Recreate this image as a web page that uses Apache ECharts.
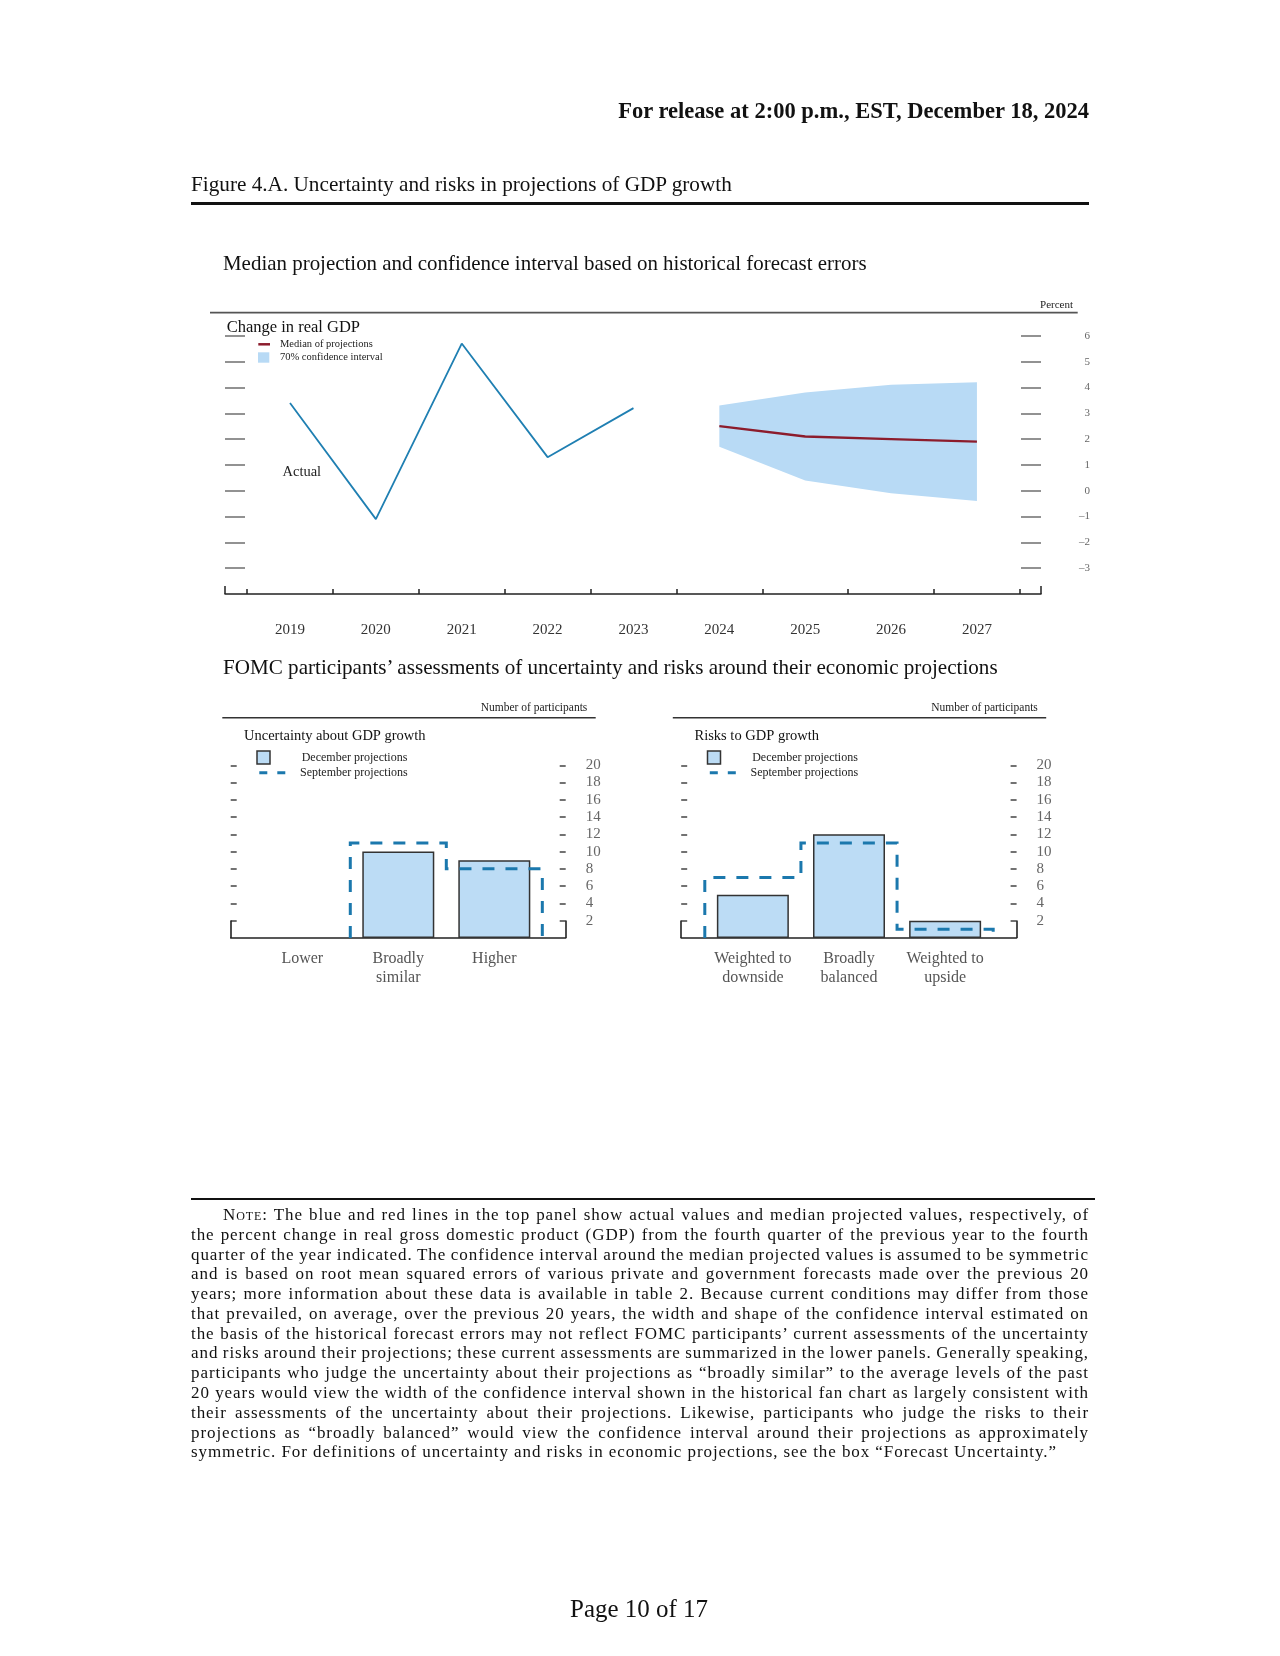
<!DOCTYPE html>
<html><head><meta charset="utf-8">
<script src="https://cdn.jsdelivr.net/npm/echarts@6/dist/echarts.min.js"></script>
<style>
html,body{margin:0;padding:0;background:#fff;}
#page{position:relative;width:1280px;height:1656px;overflow:hidden;background:#fff;}
#chart{position:absolute;left:0;top:0;width:1280px;height:1656px;}
.t{position:absolute;white-space:nowrap;font-family:"Liberation Serif",serif;color:#111;line-height:1;}
.rule{position:absolute;background:#111;}
</style></head>
<body><div id="page"><div id="chart"></div>
<div class="t" id="hdr" style="font-weight:bold">For release at 2:00 p.m., EST, December 18, 2024</div>
<div class="t" id="fig">Figure 4.A. Uncertainty and risks in projections of GDP growth</div>
<div class="rule" style="left:191px;top:202px;width:898px;height:2.5px"></div>
<div class="t" id="sub1">Median projection and confidence interval based on historical forecast errors</div>
<div class="t" id="sub2">FOMC participants’ assessments of uncertainty and risks around their economic projections</div>
<div class="rule" style="left:191px;top:1198px;width:904px;height:2px"></div>
<div id="note"></div>
<div class="t" id="pg">Page 10 of 17</div>
</div>
<script>
// ---------- data ----------
const actualYears = [2019, 2020, 2021, 2022, 2023];
const actualGDP = [3.4, -1.1, 5.7, 1.3, 3.2];
const projYears = [2024, 2025, 2026, 2027];
const medianGDP = [2.5, 2.1, 2.0, 1.9];
const ciLow = [1.7, 0.4, -0.1, -0.4];
const ciHigh = [3.3, 3.8, 4.1, 4.2];
const yearLabels = [2019, 2020, 2021, 2022, 2023, 2024, 2025, 2026, 2027];
const yearBoundaries = [2018.5, 2019.5, 2020.5, 2021.5, 2022.5, 2023.5, 2024.5, 2025.5, 2026.5, 2027.5];
const gdpTicks = [-3, -2, -1, 0, 1, 2, 3, 4, 5, 6];

const uncCats = ['Lower', 'Broadly\nsimilar', 'Higher'];
const uncDec = [0, 10, 9];
const uncSep = [0, 11, 8];
const riskCats = ['Weighted to\ndownside', 'Broadly\nbalanced', 'Weighted to\nupside'];
const riskDec = [5, 12, 2];
const riskSep = [7, 11, 1];
const countTicks = [2, 4, 6, 8, 10, 12, 14, 16, 18, 20];

// ---------- styles ----------
const FONT = '"Liberation Serif", serif';
const BLUE_LINE = '#1f7fb2';
const RED_LINE = '#8c1c2c';
const CI_FILL = '#b8daf5';
const BAR_FILL = '#bcdcf5';
const SEP_COLOR = '#1b78ad';

const topMin = 2018.243, topMax = 2027.746;
const botMin = 0.2545, botMax = 3.7435;

function stepOutline(vals) {
  return function (params, api) {
    if (params.dataIndex !== 0) return null;
    const pts = [[0.5, 0]];
    vals.forEach((v, i) => { pts.push([i + 0.5, v]); pts.push([i + 1.5, v]); });
    pts.push([vals.length + 0.5, 0]);
    const runs = []; let cur = [];
    for (let k = 0; k < pts.length; k++) {
      const p = pts[k];
      if (cur.length) {
        const q = cur[cur.length - 1];
        if (q[1] === 0 && p[1] === 0) { if (cur.length > 1) runs.push(cur); cur = [p]; continue; }
      }
      cur.push(p);
    }
    if (cur.length > 1) runs.push(cur);
    return {
      type: 'group',
      children: runs.map(r => ({
        type: 'polyline',
        shape: { points: r.map(p => api.coord(p)) },
        style: { stroke: SEP_COLOR, lineWidth: 3, lineDash: [12, 11], fill: null }
      }))
    };
  };
}

function botAxes(gi, cats) {
  return {
    x: [
      { gridIndex: gi, type: 'value', min: botMin, max: botMax,
        axisLine: { show: true, onZero: false, lineStyle: { color: '#222', width: 1.6 } },
        axisTick: { show: true, inside: true, length: 17.3, customValues: [botMin + 0.0005, botMax - 0.0005], lineStyle: { color: '#222', width: 1.6 } },
        axisLabel: { customValues: [1, 2, 3], formatter: v => cats[Math.round(v) - 1], margin: 12, fontFamily: FONT, fontSize: 16, lineHeight: 18.7, color: '#555' },
        splitLine: { show: false } }
    ],
    y: [
      { gridIndex: gi, type: 'value', min: 0, max: 21, position: 'left',
        axisLine: { show: false },
        axisTick: { show: true, inside: true, length: 6, customValues: countTicks, lineStyle: { color: '#444', width: 1.5 } },
        axisLabel: { show: false }, splitLine: { show: false } },
      { gridIndex: gi, type: 'value', min: 0, max: 21, position: 'right',
        axisLine: { show: false },
        axisTick: { show: true, inside: true, length: 6, customValues: countTicks, lineStyle: { color: '#444', width: 1.5 } },
        axisLabel: { customValues: countTicks, margin: 20, fontFamily: FONT, fontSize: 15, color: '#666' },
        splitLine: { show: false } }
    ]
  };
}

const ub = botAxes(1, uncCats), rb = botAxes(2, riskCats);
const gridTopBot = 937.9 - 21 * 8.63;
const barData = arr => arr.map((v, i) => [i + 1, v === 0 ? '-' : v]);

const option = {
  animation: false,
  backgroundColor: '#fff',
  grid: [
    { left: 225, top: 310, width: 816, height: 284 },
    { left: 230.7, top: gridTopBot, width: 335, height: 21 * 8.63 },
    { left: 681.2, top: gridTopBot, width: 335.4, height: 21 * 8.63 }
  ],
  xAxis: [
    { gridIndex: 0, type: 'value', min: topMin, max: topMax,
      axisLine: { show: true, onZero: false, lineStyle: { color: '#222', width: 1.5 } },
      axisTick: { show: true, inside: true, length: 5, customValues: yearBoundaries, lineStyle: { color: '#222', width: 1.5 } },
      axisLabel: { customValues: yearLabels, formatter: v => String(v), margin: 29, fontFamily: FONT, fontSize: 15, color: '#333' },
      splitLine: { show: false } },
    { gridIndex: 0, type: 'value', min: topMin, max: topMax, position: 'bottom', offset: 0,
      axisLine: { show: false, onZero: false },
      axisTick: { show: true, inside: true, length: 8, customValues: [topMin + 0.001, topMax - 0.001], lineStyle: { color: '#222', width: 1.5 } },
      axisLabel: { show: false }, splitLine: { show: false } },
    ub.x[0], rb.x[0]
  ],
  yAxis: [
    { gridIndex: 0, type: 'value', min: -4, max: 7, position: 'left',
      axisLine: { show: false, onZero: false },
      axisTick: { show: true, inside: true, length: 20, customValues: gdpTicks, lineStyle: { color: '#777', width: 1.6 } },
      axisLabel: { show: false }, splitLine: { show: false } },
    { gridIndex: 0, type: 'value', min: -4, max: 7, position: 'right',
      axisLine: { show: false, onZero: false },
      axisTick: { show: true, inside: true, length: 20, customValues: gdpTicks, lineStyle: { color: '#777', width: 1.6 } },
      axisLabel: { customValues: gdpTicks, margin: 49, align: 'right', fontFamily: FONT, fontSize: 11, color: '#666',
        formatter: v => v < 0 ? '\u2013' + Math.abs(v) : String(v) },
      splitLine: { show: false } },
    ub.y[0], ub.y[1], rb.y[0], rb.y[1]
  ],
  series: [
    { type: 'custom', xAxisIndex: 0, yAxisIndex: 0, silent: true, z: 1,
      data: projYears.map((y, i) => [y, ciLow[i], ciHigh[i]]),
      encode: { x: 0, y: [1, 2] },
      renderItem: function (params, api) {
        if (params.dataIndex !== 0) return null;
        const upper = projYears.map((y, i) => api.coord([y, ciHigh[i]]));
        const lower = projYears.map((y, i) => api.coord([y, ciLow[i]])).reverse();
        return { type: 'polygon', shape: { points: upper.concat(lower) }, style: { fill: CI_FILL } };
      } },
    { type: 'line', xAxisIndex: 0, yAxisIndex: 0, showSymbol: false, z: 3,
      data: actualYears.map((y, i) => [y, actualGDP[i]]),
      lineStyle: { color: BLUE_LINE, width: 1.8 } },
    { type: 'line', xAxisIndex: 0, yAxisIndex: 0, showSymbol: false, z: 3,
      data: projYears.map((y, i) => [y, medianGDP[i]]),
      lineStyle: { color: RED_LINE, width: 2.4 } },
    { type: 'bar', xAxisIndex: 2, yAxisIndex: 2, barWidth: 72, z: 2,
      data: barData(uncDec),
      itemStyle: { color: BAR_FILL, borderColor: '#333', borderWidth: 1.5 } },
    { type: 'custom', xAxisIndex: 2, yAxisIndex: 2, silent: true, z: 4,
      data: uncSep.map((v, i) => [i + 1, v]), encode: { x: 0, y: 1 },
      renderItem: stepOutline(uncSep) },
    { type: 'bar', xAxisIndex: 3, yAxisIndex: 4, barWidth: 72, z: 2,
      data: barData(riskDec),
      itemStyle: { color: BAR_FILL, borderColor: '#333', borderWidth: 1.5 } },
    { type: 'custom', xAxisIndex: 3, yAxisIndex: 4, silent: true, z: 4,
      data: riskSep.map((v, i) => [i + 1, v]), encode: { x: 0, y: 1 },
      renderItem: stepOutline(riskSep) }
  ],
  graphic: []
};

function txt(text, x, y, size, align, color) {
  return { type: 'text', silent: true, z: 10,
    style: { text: text, x: x, y: y, font: size + 'px ' + FONT, fill: color || '#111', textAlign: align || 'left', textVerticalAlign: 'middle' } };
}
function hline(x1, x2, y, color, w, dash) {
  return { type: 'line', silent: true, z: 10, shape: { x1: x1, y1: y, x2: x2, y2: y },
    style: { stroke: color, lineWidth: w, lineDash: dash || null } };
}
const g = option.graphic;
// top panel decorations
g.push(hline(210, 1077.7, 312.6, '#555', 1.8));
g.push(txt('Percent', 1073, 304.7, 11, 'right', '#222'));
g.push(txt('Change in real GDP', 226.7, 327.3, 16.5, 'left', '#111'));
g.push(hline(258.3, 270, 344.3, RED_LINE, 2.5));
g.push(txt('Median of projections', 280, 344.3, 10.5, 'left', '#222'));
g.push({ type: 'rect', silent: true, z: 10, shape: { x: 258, y: 352.3, width: 11.3, height: 10.4 }, style: { fill: CI_FILL } });
g.push(txt('70% confidence interval', 280, 357.3, 10.5, 'left', '#222'));
g.push(txt('Actual', 282.5, 472.5, 14.5, 'left', '#222'));
// bottom panels
[[0, 'Uncertainty about GDP growth'], [450.5, 'Risks to GDP growth']].forEach(function (p) {
  const o = p[0];
  g.push(hline(222.3 + o, 595.7 + o, 717.7, '#333', 1.5));
  g.push(txt('Number of participants', 587.3 + o, 708, 11.5, 'right', '#222'));
  g.push(txt(p[1], 244 + o, 735.7, 14.5, 'left', '#111'));
  g.push({ type: 'rect', silent: true, z: 10, shape: { x: 257 + o, y: 751, width: 13, height: 13 }, style: { fill: BAR_FILL, stroke: '#333', lineWidth: 1.5 } });
  g.push(txt('December projections', 301.7 + o, 758.3, 12, 'left', '#222'));
  g.push(hline(259.3 + o, 286.7 + o, 772.7, SEP_COLOR, 3, [8, 10]));
  g.push(txt('September projections', 300 + o, 772.7, 12, 'left', '#222'));
});

const chart = echarts.init(document.getElementById('chart'), null, { renderer: 'canvas' });
chart.setOption(option);

// ---------- page text fitting ----------
function fit(id, baseFs, targetW, pos) {
  const el = document.getElementById(id);
  el.style.fontSize = baseFs + 'px';
  let w = el.getBoundingClientRect().width;
  const fs = baseFs * targetW / w;
  el.style.fontSize = fs + 'px';
  const r = el.getBoundingClientRect();
  w = r.width;
  let left = pos.left;
  if (pos.right !== undefined) left = pos.right - w;
  if (pos.cx !== undefined) left = pos.cx - w / 2;
  el.style.left = left + 'px';
  el.style.top = (pos.cy - r.height / 2) + 'px';
}
fit('hdr', 18, 471, { right: 1089, cy: 111 });
fit('fig', 18, 541, { left: 191, cy: 185 });
fit('sub1', 17, 644, { left: 223, cy: 263 });
fit('sub2', 17, 775, { left: 223, cy: 667.5 });
fit('pg', 22, 138, { cx: 639, cy: 1609.5 });

const noteLines = [
  '<span style="font-variant:small-caps">Note</span>: The blue and red lines in the top panel show actual values and median projected values, respectively, of',
  'the percent change in real gross domestic product (GDP) from the fourth quarter of the previous year to the fourth',
  'quarter of the year indicated. The confidence interval around the median projected values is assumed to be symmetric',
  'and is based on root mean squared errors of various private and government forecasts made over the previous 20',
  'years; more information about these data is available in table 2. Because current conditions may differ from those',
  'that prevailed, on average, over the previous 20 years, the width and shape of the confidence interval estimated on',
  'the basis of the historical forecast errors may not reflect FOMC participants’ current assessments of the uncertainty',
  'and risks around their projections; these current assessments are summarized in the lower panels. Generally speaking,',
  'participants who judge the uncertainty about their projections as “broadly similar” to the average levels of the past',
  '20 years would view the width of the confidence interval shown in the historical fan chart as largely consistent with',
  'their assessments of the uncertainty about their projections. Likewise, participants who judge the risks to their',
  'projections as “broadly balanced” would view the confidence interval around their projections as approximately',
  'symmetric. For definitions of uncertainty and risks in economic projections, see the box “Forecast Uncertainty.”'
];
const noteBox = document.getElementById('note');
const NFS = 17;
const lineEls = noteLines.map(function (h) {
  const d = document.createElement('div');
  d.className = 't';
  d.innerHTML = h;
  d.style.fontSize = NFS + 'px';
  noteBox.appendChild(d);
  return d;
});
const last = lineEls[lineEls.length - 1];
const lw = last.getBoundingClientRect().width;
const ls = (866 - lw) / last.textContent.length;
lineEls.forEach(function (d, i) {
  d.style.letterSpacing = ls + 'px';
  const left = i === 0 ? 223 : 191;
  d.style.left = left + 'px';
  d.style.top = (1214.5 + i * 19.78 - NFS / 2) + 'px';
  if (i < lineEls.length - 1) {
    const target = 1089 - left;
    const w = d.getBoundingClientRect().width;
    const spaces = d.textContent.split(' ').length - 1;
    d.style.wordSpacing = ((target - w) / spaces) + 'px';
  }
});
</script>
</body></html>
